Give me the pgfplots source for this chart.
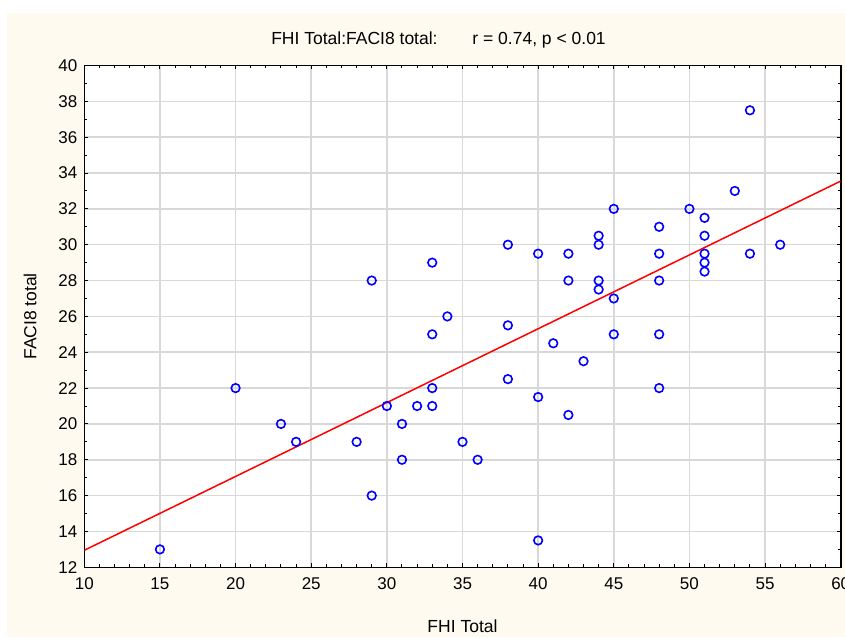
\documentclass[border=0pt]{standalone}
\usepackage{pgfplots}
\pgfplotsset{compat=1.18}
\usepackage{fontspec}
\setmainfont{Liberation Sans}
\definecolor{cream}{RGB}{255,250,240}
\definecolor{gridgray}{RGB}{216,216,216}
\begin{document}
\begin{tikzpicture}[x=1pt,y=1pt]
\useasboundingbox (0,0) rectangle (845,637);
\fill[cream] (7,0) rectangle (846,624);
\begin{axis}[
  at={(84.3pt,69.7pt)}, anchor=south west,
  scale only axis, width=756.4pt, height=501.8pt,
  xmin=10, xmax=60, ymin=12, ymax=40,
  xtick={10,15,...,60}, ytick={12,14,...,40},
  minor x tick num=4, minor y tick num=1,
  grid=major, major grid style={gridgray, line width=1.5pt},
  axis line style={black, line width=1.6pt},
  tick style={black, line width=1pt},
  major tick length=4pt, minor tick length=3pt,
  tick align=inside,
  axis background/.style={fill=white},
  ticklabel style={font=\fontsize{17}{20}\selectfont},
  /pgf/number format/assume math mode=true,
  xticklabel style={yshift=-7pt},
  yticklabel style={xshift=-3.5pt},
]
\addplot[only marks, mark=o, mark size=4.3pt, mark options={blue, line width=1.6pt}] coordinates {
(15,13) (20,22) (23,20) (24,19) (28,19) (29,28) (29,16) (30,21) (31,20) (31,18)
(32,21) (33,29) (33,25) (33,22) (33,21) (34,26) (35,19) (36,18) (38,30) (38,25.5)
(38,22.5) (40,29.5) (40,21.5) (40,13.5) (41,24.5) (42,29.5) (42,28) (42,20.5) (43,23.5) (44,30.5)
(44,30) (44,28) (44,27.5) (45,32) (45,27) (45,25) (48,31) (48,29.5) (48,28) (48,25)
(48,22) (50,32) (51,31.5) (51,30.5) (51,29.5) (51,29) (51,28.5) (53,33) (54,37.5) (54,29.5)
(56,30)
};
\addplot[red, line width=1.5pt] coordinates {(10,12.95) (60,33.55)};
\end{axis}
\node[font=\fontsize{17.5}{20}\selectfont] at (438.5,597) {FHI Total:FACI8 total:\hspace*{30pt} r = 0.74, p < 0.01};
\node[font=\fontsize{17.5}{20}\selectfont] at (462.5,11) {FHI Total};
\node[font=\fontsize{17.5}{20}\selectfont, rotate=90] at (30,320.6) {FACI8 total};
\end{tikzpicture}
\end{document}
